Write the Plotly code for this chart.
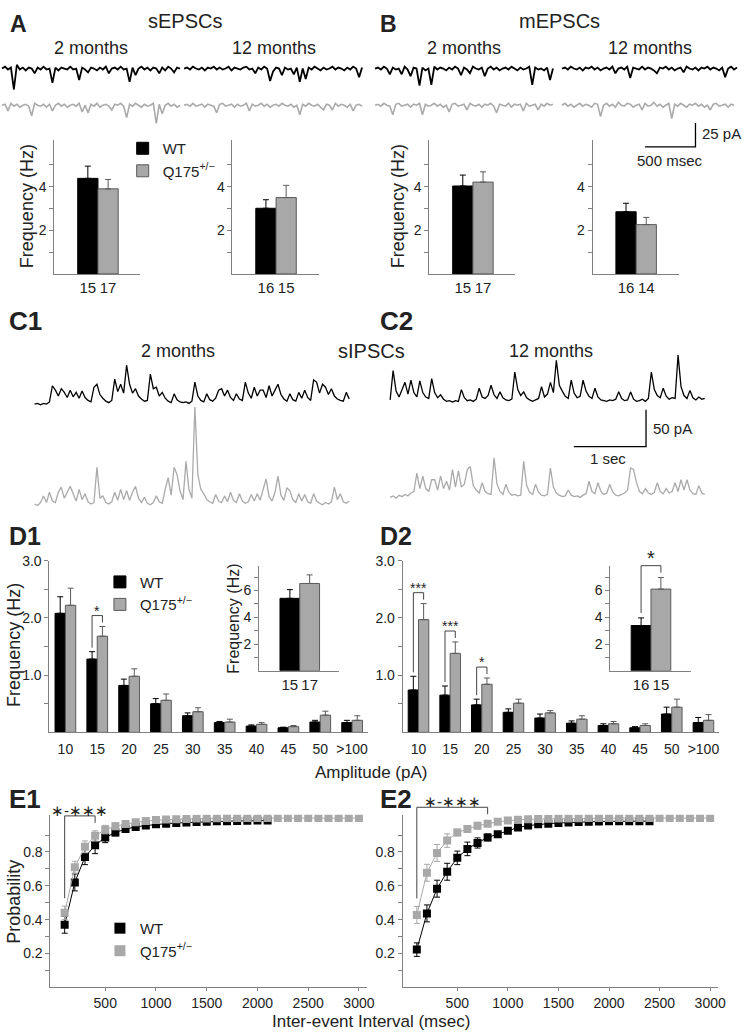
import plotly.graph_objects as go

W, H = 750, 1033
FONT = 'Liberation Sans, Arial, sans-serif'
BLACK = '#000000'
GRAY = '#a8a8a8'
EDGE_GRAY = '#5a5a5a'
TRACE_GRAY = '#aaaaaa'
AXIS = '#808080'
TXT = '#222222'
Q_NAME = 'Q175<sup>+/\u2212</sup>'

# ---------------- data ----------------
# A / B : event frequency (Hz), mean and SEM for [WT, Q175], n = cells
sepsc_2m = [4.38, 3.90]
sepsc_2m_sem = [0.56, 0.43]
sepsc_2m_n = ['15', '17']
sepsc_12m = [3.01, 3.50]
sepsc_12m_sem = [0.39, 0.56]
sepsc_12m_n = ['16', '15']
mepsc_2m = [4.03, 4.21]
mepsc_2m_sem = [0.50, 0.47]
mepsc_2m_n = ['15', '17']
mepsc_12m = [2.85, 2.26]
mepsc_12m_sem = [0.39, 0.33]
mepsc_12m_n = ['16', '14']

# D : sIPSC frequency per amplitude bin (Hz)
amp_bins = ['10', '15', '20', '25', '30', '35', '40', '45', '50', '>100']
d1_wt = [2.08, 1.28, 0.82, 0.50, 0.29, 0.17, 0.11, 0.08, 0.18, 0.17]
d1_wt_sem = [0.29, 0.13, 0.11, 0.09, 0.05, 0.02, 0.02, 0.01, 0.03, 0.04]
d1_q = [2.22, 1.68, 0.98, 0.56, 0.36, 0.18, 0.14, 0.10, 0.30, 0.21]
d1_q_sem = [0.30, 0.17, 0.13, 0.11, 0.07, 0.05, 0.03, 0.02, 0.07, 0.08]
d2_wt = [0.74, 0.65, 0.48, 0.35, 0.25, 0.16, 0.12, 0.08, 0.32, 0.17]
d2_wt_sem = [0.24, 0.16, 0.10, 0.06, 0.07, 0.04, 0.03, 0.02, 0.12, 0.09]
d2_q = [1.97, 1.38, 0.84, 0.51, 0.34, 0.23, 0.15, 0.12, 0.44, 0.21]
d2_q_sem = [0.28, 0.20, 0.11, 0.07, 0.04, 0.06, 0.04, 0.03, 0.14, 0.10]
d1_sig = [(1, '*')]
d2_sig = [(0, '***'), (1, '***'), (2, '*')]
# insets: total sIPSC frequency
sipsc_2m = [5.41, 6.52]
sipsc_2m_sem = [0.65, 0.64]
sipsc_2m_n = ['15', '17']
sipsc_12m = [3.38, 6.10]
sipsc_12m_sem = [0.57, 0.86]
sipsc_12m_n = ['16', '15']

# E : cumulative probability of inter-event interval (msec)
iei = [100, 200, 300, 400, 500, 600, 700, 800, 900, 1000, 1100, 1200, 1300, 1400, 1500,
       1600, 1700, 1800, 1900, 2000, 2100, 2200, 2300, 2400, 2500, 2600, 2700, 2800, 2900, 3000]
e1_wt = [0.37, 0.62, 0.77, 0.84, 0.885, 0.915, 0.935, 0.948, 0.956, 0.963, 0.967, 0.971,
         0.974, 0.977, 0.979, 0.981, 0.982, 0.983, 0.984, 0.985, 0.985]
e1_wt_sem = [0.05, 0.05, 0.045, 0.05, 0.03, 0.02, 0.015, 0.015, 0.01, 0.01, 0.01, 0.01,
             0.008, 0.008, 0.006, 0.006, 0.005, 0.005, 0.005, 0.004, 0.004]
e1_q = [0.44, 0.71, 0.83, 0.895, 0.932, 0.952, 0.965, 0.975, 0.983, 0.988, 0.991, 0.993,
        0.995, 0.997, 0.998, 0.999, 1.0, 1.0, 1.0, 1.0, 1.0, 1.0, 1.0, 1.0, 1.0, 1.0, 1.0,
        1.0, 1.0, 1.0]
e1_q_sem = [0.04, 0.035, 0.035, 0.03, 0.025, 0.02, 0.015, 0.01, 0.01, 0.008, 0.006, 0.005,
            0.004, 0.003, 0.003, 0.002, 0.002, 0, 0, 0, 0, 0, 0, 0, 0, 0, 0, 0, 0, 0]
e2_wt = [0.223, 0.437, 0.583, 0.683, 0.765, 0.818, 0.853, 0.886, 0.905, 0.925, 0.944, 0.956,
         0.963, 0.967, 0.971, 0.974, 0.977, 0.979, 0.98, 0.981, 0.981, 0.982, 0.982, 0.982]
e2_wt_sem = [0.04, 0.05, 0.05, 0.05, 0.04, 0.04, 0.03, 0.02, 0.015, 0.015, 0.01, 0.01,
             0.01, 0.008, 0.008, 0.006, 0.006, 0.005, 0.005, 0.004, 0.004, 0.004, 0.004, 0.004]
e2_q = [0.428, 0.677, 0.794, 0.867, 0.915, 0.935, 0.955, 0.966, 0.978, 0.985, 0.99, 0.993,
        0.995, 0.996, 0.997, 0.998, 0.999, 1.0, 1.0, 1.0, 1.0, 1.0, 1.0, 1.0, 1.0, 1.0, 1.0,
        1.0, 1.0, 1.0]
e2_q_sem = [0.05, 0.05, 0.05, 0.04, 0.02, 0.02, 0.02, 0.01, 0.01, 0.008, 0.006, 0.005,
            0.004, 0.003, 0.003, 0.002, 0.002, 0, 0, 0, 0, 0, 0, 0, 0, 0, 0, 0, 0, 0]
e1_sig = (100, 400, '\u2217-\u2217\u2217\u2217')
e2_sig = (100, 800, '\u2217-\u2217\u2217\u2217')

# example recordings (pA from baseline); A/B sampled every 29.4 ms, C every 41.1 ms
ab_dt = 29.4
c_dt = 41.1
tr_sepsc_2m_wt = [0, 2, -1, 1, -22, 4, -1, 1, -2, 1, 0, -5, 1, -1, 2, -1, 0, -15, 1, -2, 1, 0, -1, 2, -1,
                  0, -12, 1, -1, -4, 1, 0, -2, 1, -1, 2, -5, 0, 1, -1, 2, -1, 0, -14, 1, -7, 0, 2, -1,
                  1, -2, 1, 0, -5, 1, -2, 2, 0, -4, 1, 0]
tr_sepsc_12m_wt = [0, 1, -1, 2, 0, -1, 1, -2, 1, 0, 2, -1, 1, -1, 0, 2, -2, 1, 0, -1, 1, 2, -1, 0, -5,
                   1, -1, 2, 0, -13, -3, 1, 0, -7, 1, -1, 0, -6, 1, -14, 0, -11, 1, -1, 2, 0, -2, 1,
                   -1, 0, 2, -1, 1, 0, -2, 1, -1, 2, 0, -9, 1]
tr_sepsc_2m_q = [0, 1, -6, 2, -1, 1, -2, 0, 1, -1, -11, 2, 0, -1, 1, -2, 1, -6, 0, 2, -1, 1, -2, 0, 1,
                 -1, 2, -7, 0, -8, 1, -1, 2, -2, 0, 1, -1, -5, 1, 0, 2, -1, -13, 1, -1, 2, 0, -2, 1,
                 -1, 0, 2, -19, 1, -9, 0, 2, -1, 1, -2, 0]
tr_sepsc_12m_q = [0, 1, -1, 2, -1, 0, 1, -2, 1, 0, -1, -8, 1, 2, -1, 0, 1, -2, 1, -1, 0, 2, -6, 1, -1,
                  0, 2, -1, 1, -2, 0, 1, -1, 2, 0, -1, 1, -2, 0, -10, 1, -1, 2, 0, -1, 1, -2, -5, 1,
                  0, -5, 2, -1, 1, 0, -2, 1, -6, 0, 1, -1]
tr_mepsc_2m_wt = [0, 1, -1, 2, 0, -6, 1, -1, 0, -6, 2, -1, -8, 1, 0, -18, 1, -2, 0, -17, 2, -1, 1, 0,
                  -2, 1, -1, 2, 0, -7, 1, -1, -5, 2, 0, -1, 1, -8, 0, 2, -1, 1, -2, 0, 1, -1, 2, 0,
                  -2, 1, -1, 0, 2, -17, 1, -1, 0, -2, 1, -12, 0]
tr_mepsc_12m_wt = [0, 1, -1, 2, 0, -1, 1, -2, 1, 0, 2, -1, 1, -2, 0, 1, -1, 2, -5, 0, 1, -1, 2, -10,
                   1, 0, -1, 2, -1, 1, 0, -2, -5, 1, 0, 2, -1, 1, -2, 0, 1, -4, 2, 0, -1, 1, -2, 1,
                   0, 2, -1, 1, 0, -2, 1, -9, 0, 2, -1, 1]
tr_mepsc_2m_q = [0, 1, -1, 2, 0, -1, -10, 1, 2, -1, 0, 1, -2, 1, 0, 2, -10, 1, -1, 0, 2, -1, 1, -2, 0,
                 -7, 1, 2, -1, 0, 1, -5, 2, 0, -1, 1, -2, 1, 0, 2, -1, -8, 1, 0, -1, 2, -2, 1, 0, 1,
                 -6, 2, -1, 0, 1, -5, 1, -1, 2, 0, 1]
tr_mepsc_12m_q = [0, 2, -1, 1, -2, 0, 2, -1, 1, 0, -2, 2, 1, -12, 0, 2, -1, 1, -2, 3, 0, -1, 2, 1, -2,
                  0, 1, -5, 2, -1, 0, 3, -1, 1, -2, 0, 2, -14, 1, -1, 2, 0, -2, 1, 0, 2, -1, 1, -2,
                  0, -5, 1, 2, -1, 0, 1, -2, 1, 0]
tr_sipsc_2m_wt = [-3, -2, -4, -2, -3, 0, 22, 16, 8, 18, 13, 6, 16, 7, 13, 5, 15, 6, 2, 0, 20, 24, 10,
                  5, 1, -1, 2, 31, 14, 24, 12, 50, 24, 12, 18, 8, 4, 1, 2, 38, 18, 20, 8, 13, 5, 1,
                  -1, 11, 3, 0, -1, 0, -2, 1, 27, 8, 2, 0, 11, 3, 1, 5, 16, 18, 8, 16, 6, 2, 11, 4,
                  2, 27, 12, 5, 20, 8, 16, 16, 6, 22, 8, 16, 24, 10, 4, 1, 11, 3, 1, 13, 5, 16, 6,
                  2, 30, 27, 12, 24, 20, 10, 18, 8, 4, 2, 1, 13, 4]
tr_sipsc_2m_q = [0, -2, 2, 11, 2, 16, 4, 2, 16, 23, 8, 16, 24, 14, 4, 20, 6, 14, 3, 0, 2, 50, 8, 11,
                 2, 0, 3, 16, 5, 20, 6, 18, 5, 16, 24, 8, 2, 9, 1, -1, 2, 11, 3, 1, 20, 36, 12, 50,
                 40, 18, 6, 58, 20, 8, 132, 40, 20, 14, 6, 3, 1, 13, 4, 2, 11, 3, 16, 5, 2, 14, 4,
                 1, 3, 13, 4, 14, 5, 20, 34, 10, 4, 16, 38, 12, 5, 22, 18, 6, 2, 14, 4, 13, 3, 1,
                 14, 4, 1, -1, 2, 0, 3, 23, 6, 14, 3, 1, 4]
tr_sipsc_12m_wt = [0, 40, 12, 4, 14, 24, 8, 27, 10, 4, 26, 10, 4, 2, 29, 10, 3, 7, 1, -2, -1, -3, -1,
                   -2, 14, 3, -1, 0, -2, 1, 16, 4, 2, 6, 20, 7, 2, 11, 3, 0, -1, 1, 38, 14, 6, 11,
                   3, 0, -2, 0, 2, 18, 4, 8, 24, 10, 54, 20, 12, 5, 2, 27, 9, 3, 5, 27, 12, 5, 2,
                   16, 4, 0, -1, -2, 0, -1, 1, 11, 2, -1, 0, 11, 1, -2, -1, 1, -2, 2, 38, 14, 6, 3,
                   16, 5, 1, 3, 2, 61, 18, 6, 2, 13, 3, 0, 4, 1, 2]
tr_sipsc_12m_q = [-2, 0, -3, 1, -1, 2, 0, 4, 6, 31, 10, 27, 10, 6, 22, 22, 8, 27, 10, 20, 8, 36, 12,
                  34, 12, 16, 36, 40, 14, 8, 4, 18, 6, 3, 2, 52, 16, 6, 2, 16, 5, 1, 2, 0, 1, 47,
                  14, 5, 2, 16, 5, 1, 0, 2, 38, 12, 4, 1, -1, 0, 8, 1, -1, 0, -2, 1, 3, 20, 6, 3,
                  18, 6, 2, 4, 16, 5, 1, 0, 2, 4, 8, 38, 36, 18, 6, 3, 10, 4, 2, 5, 18, 6, 3, 10,
                  4, 6, 18, 6, 22, 8, 22, 8, 3, 2, 14, 4, 2]
scale_ab = (500, 25)   # msec, pA
scale_c = (1000, 50)


# ---------------- helpers ----------------
def xdom(l, r):
    return [l / W, r / W]


def ydom(t, b):
    return [1 - b / H, 1 - t / H]


def ref(a, i):
    return a if i == 1 else f'{a}{i}'


def key(a, i):
    return f'{a}axis' if i == 1 else f'{a}axis{i}'


fig = go.Figure()
layout = {}
ann = []
shapes = []


def note(s, x, y, size, bold=False, angle=0, xanchor='center', yanchor='middle', color=TXT):
    ann.append(dict(text=f'<b>{s}</b>' if bold else s, x=x / W, y=1 - y / H, xref='paper', yref='paper',
                    showarrow=False, textangle=angle, xanchor=xanchor, yanchor=yanchor,
                    font=dict(family=FONT, size=size, color=color)))


def bar_axes(i, l, r, t, b, xr, yr, xt, yt, ylab, minor, xsize=15):
    layout[key('x', i)] = dict(domain=xdom(l, r), anchor=ref('y', i), range=xr, showline=True,
                               linecolor=AXIS, linewidth=1, ticks='', showgrid=False, zeroline=False,
                               tickvals=list(range(len(xt))), ticktext=xt,
                               tickfont=dict(size=xsize, color=TXT, family=FONT))
    layout[key('y', i)] = dict(domain=ydom(t, b), anchor=ref('x', i), range=yr, showline=True,
                               linecolor=AXIS, linewidth=1, ticks='outside', ticklen=4, tickcolor=AXIS,
                               showgrid=False, zeroline=False, tickvals=yt, ticktext=ylab,
                               minor=dict(tickvals=minor, ticks='outside', ticklen=4, tickcolor=AXIS,
                                          showgrid=False),
                               tickfont=dict(size=14, color=TXT, family=FONT))


def pair_bars(i, xs, wt, wt_sem, q, q_sem, offs, width, legend=None):
    for vals, sem, name, col, edge, o in ((wt, wt_sem, 'WT', BLACK, BLACK, offs[0]),
                                          (q, q_sem, Q_NAME, GRAY, EDGE_GRAY, offs[1])):
        fig.add_trace(go.Bar(x=xs, y=vals, offset=o, width=width, name=name,
                             marker=dict(color=col, line=dict(color=edge, width=1)),
                             error_y=dict(type='data', array=sem, arrayminus=[0] * len(sem),
                                          symmetric=False, color=edge, thickness=1, width=3),
                             xaxis=ref('x', i), yaxis=ref('y', i), hoverinfo='skip',
                             showlegend=legend is not None, legend=legend or 'legend'))


def bracket(i, x0, x1, top0, top1, t, b, yr, pad, label, size):
    def to_py(v):
        return b - (v - yr[0]) / (yr[1] - yr[0]) * (b - t)
    p0 = to_py(top0) - pad
    p1 = to_py(top1) - pad
    pt = min(p0, p1) - 7
    shapes.append(dict(type='path', xref=ref('x', i), yref='paper',
                       path=f'M{x0},{1 - p0 / H} L{x0},{1 - pt / H} L{x1},{1 - pt / H} L{x1},{1 - p1 / H}',
                       line=dict(color='#444444', width=1)))
    ann.append(dict(text=label, x=(x0 + x1) / 2, y=1 - pt / H, xref=ref('x', i), yref='paper',
                    yanchor='bottom', yshift=-5, showarrow=False,
                    font=dict(family=FONT, size=size, color=TXT)))


def recording(i, vals, t0, dt, base, color, width):
    fig.add_trace(go.Scatter(x=[t0 + k * dt for k in range(len(vals))], y=[base + v for v in vals],
                             mode='lines', line=dict(color=color, width=width, simplify=False),
                             hoverinfo='skip', showlegend=False, xaxis=ref('x', i), yaxis=ref('y', i)))


def scale_bar(i, x, y, sizes):
    fig.add_trace(go.Scatter(x=[x - sizes[0], x, x], y=[y, y, y + sizes[1]], mode='lines',
                             line=dict(color=BLACK, width=1.3), hoverinfo='skip', showlegend=False,
                             xaxis=ref('x', i), yaxis=ref('y', i)))


# ---------------- recordings (A/B row and C row) ----------------
layout['xaxis'] = dict(domain=[0, 1], range=[0, 7353], visible=False)
layout['yaxis'] = dict(domain=ydom(45, 150), range=[-92.7, 16.7], visible=False)
for vals, t0, base, col, lw in ((tr_sepsc_2m_wt, 20, 0, BLACK, 1.8), (tr_sepsc_12m_wt, 1824, 0, BLACK, 1.8),
                                (tr_mepsc_2m_wt, 3716, 0, BLACK, 1.8), (tr_mepsc_12m_wt, 5569, 0, BLACK, 1.8),
                                (tr_sepsc_2m_q, 20, -38.5, TRACE_GRAY, 1.6),
                                (tr_sepsc_12m_q, 1824, -38.5, TRACE_GRAY, 1.6),
                                (tr_mepsc_2m_q, 3716, -38.5, TRACE_GRAY, 1.6),
                                (tr_mepsc_12m_q, 5569, -38.5, TRACE_GRAY, 1.6)):
    recording(1, vals, t0, ab_dt, base, col, lw)
scale_bar(1, 6892, -82.3, scale_ab)

layout['xaxis2'] = dict(domain=[0, 1], range=[0, 10274], visible=False, anchor='y2')
layout['yaxis2'] = dict(domain=ydom(340, 510), range=[-152.7, 77.0], visible=False, anchor='x2')
for vals, t0, base, col in ((tr_sipsc_2m_wt, 479, 0, BLACK), (tr_sipsc_2m_q, 479, -139, TRACE_GRAY),
                            (tr_sipsc_12m_wt, 5402, 2.7, BLACK), (tr_sipsc_12m_q, 5402, -128, TRACE_GRAY)):
    recording(2, vals, t0, c_dt, base, col, 1.3)
scale_bar(2, 8945, -60.8, scale_c)

# ---------------- A / B bar charts ----------------
for i, l, vals, sem, n, leg in ((3, 55, sepsc_2m, sepsc_2m_sem, sepsc_2m_n, 'legend'),
                                (4, 235, sepsc_12m, sepsc_12m_sem, sepsc_12m_n, None),
                                (5, 434, mepsc_2m, mepsc_2m_sem, mepsc_2m_n, None),
                                (6, 599, mepsc_12m, mepsc_12m_sem, mepsc_12m_n, None)):
    bar_axes(i, l, l + 87, 133, 268, [-1.65, 2.6], [0, 6.14], n, [2, 4], ['2', '4'], [1, 3, 5])
    pair_bars(i, [0], [vals[0]], [sem[0]], [vals[1]], [sem[1]], (-0.5, 0.5), 1, leg)

# ---------------- D amplitude histograms ----------------
xs = list(range(len(amp_bins)))
for i, l, r, wt, wts, q, qs, sig, leg in ((7, 50, 372, d1_wt, d1_wt_sem, d1_q, d1_q_sem, d1_sig, 'legend2'),
                                          (9, 407, 727, d2_wt, d2_wt_sem, d2_q, d2_q_sem, d2_sig, None)):
    bar_axes(i, l, r, 557, 730, [-0.5, 9.5], [0, 3.0], amp_bins, [1.0, 2.0, 3.0], ['1.0', '2.0', '3.0'],
             [0.5, 1.5, 2.5], xsize=14)
    layout[key('x', i)]['ticklabelstandoff'] = 4
    pair_bars(i, xs, wt, wts, q, qs, (-0.325, 0), 0.325, leg)
    for k, lab in sig:
        bracket(i, k - 0.1625, k + 0.1625, wt[k] + wts[k], q[k] + qs[k], 557, 730, [0, 3.0], 4, lab, 14)

for i, l, vals, sem, n in ((8, 262, sipsc_2m, sipsc_2m_sem, sipsc_2m_n),
                           (10, 617, sipsc_12m, sipsc_12m_sem, sipsc_12m_n)):
    bar_axes(i, l, l + 81, 562, 668, [-1.55, 2.5], [0, 7.85], n, [2, 4, 6], ['2', '4', '6'], [1, 3, 5, 7])
    pair_bars(i, [0], [vals[0]], [sem[0]], [vals[1]], [sem[1]], (-0.5, 0.5), 1)
bracket(10, 0, 1, sipsc_12m[0] + sipsc_12m_sem[0], sipsc_12m[1] + sipsc_12m_sem[1],
        562, 668, [0, 7.85], 5, '*', 20)

# ---------------- E cumulative distributions ----------------
for i, l, r, wt, wts, q, qs, sig in ((11, 51, 371, e1_wt, e1_wt_sem, e1_q, e1_q_sem, e1_sig),
                                     (12, 407, 726, e2_wt, e2_wt_sem, e2_q, e2_q_sem, e2_sig)):
    layout[key('x', i)] = dict(domain=xdom(l, r), anchor=ref('y', i), range=[-40, 3080], showline=True,
                               linecolor=AXIS, linewidth=1, ticks='outside', ticklen=3, tickcolor=AXIS,
                               showgrid=False, zeroline=False, tickvals=[500, 1000, 1500, 2000, 2500, 3000],
                               tickfont=dict(size=14, color=TXT, family=FONT))
    layout[key('y', i)] = dict(domain=ydom(813, 987), anchor=ref('x', i), range=[0, 1.02], showline=True,
                               linecolor=AXIS, linewidth=1, ticks='outside', ticklen=4, tickcolor=AXIS,
                               showgrid=False, zeroline=False, tickvals=[0.2, 0.4, 0.6, 0.8],
                               ticktext=['0.2', '0.4', '0.6', '0.8'],
                               minor=dict(tickvals=[0.1, 0.3, 0.5, 0.7, 0.9], ticks='outside', ticklen=4,
                                          tickcolor=AXIS, showgrid=False),
                               tickfont=dict(size=14, color=TXT, family=FONT))
    for vals, sem, col in ((wt, wts, BLACK), (q, qs, GRAY)):
        fig.add_trace(go.Scatter(x=iei[:len(vals)], y=vals, mode='lines+markers',
                                 line=dict(color=col, width=1),
                                 marker=dict(symbol='square', size=8, color=col),
                                 error_y=dict(type='data', array=sem, color=col, thickness=1, width=3),
                                 hoverinfo='skip', showlegend=False, xaxis=ref('x', i), yaxis=ref('y', i)))
    k0, k1 = iei.index(sig[0]), iei.index(sig[1])
    bracket(i, sig[0], sig[1], max(wt[k0] + wts[k0], q[k0] + qs[k0]), max(wt[k1] + wts[k1], q[k1] + qs[k1]),
            813, 987, [0, 1.02], 8, sig[2], 15)

for name, col in (('WT', BLACK), (Q_NAME, GRAY)):
    fig.add_trace(go.Scatter(x=[None], y=[None], mode='markers', name=name,
                             marker=dict(symbol='square', size=11, color=col),
                             legend='legend3', xaxis='x11', yaxis='y11'))

# ---------------- text ----------------
note('A', 8, 16, 23, bold=True, xanchor='left')
note('B', 382, 16, 23, bold=True, xanchor='left')
note('sEPSCs', 187, 13, 20)
note('mEPSCs', 566, 13, 20)
note('2 months', 92, 40, 18)
note('12 months', 277, 40, 18)
note('2 months', 469, 40, 18)
note('12 months', 657, 40, 18)
note('25 pA', 708, 126, 15, xanchor='left')
note('500 msec', 677, 154, 15)
note('Frequency (Hz)', 28, 200, 18, angle=-90)
note('Frequency (Hz)', 403, 200, 18, angle=-90)

note('C1', 7, 315, 26, bold=True, xanchor='left')
note('C2', 382, 315, 26, bold=True, xanchor='left')
note('2 months', 180, 346, 18)
note('sIPSCs', 376, 346, 20)
note('12 months', 557, 346, 18)
note('50 pA', 658, 424, 15, xanchor='left')
note('1 sec', 615, 454, 15)

note('D1', 7, 532, 25, bold=True, xanchor='left')
note('D2', 382, 532, 25, bold=True, xanchor='left')
note('Frequency (Hz)', 14, 642, 18, angle=-90)
note('Frequency (Hz)', 236, 615, 16, angle=-90)
note('Amplitude (pA)', 375, 770, 17)

note('E1', 7, 797, 26, bold=True, xanchor='left')
note('E2', 382, 797, 26, bold=True, xanchor='left')
note('Probability', 14, 901, 18, angle=-90)
note('Inter-event Interval (msec)', 375, 1021, 17)

leg_style = dict(xanchor='left', yanchor='top', bgcolor='rgba(0,0,0,0)', borderwidth=0,
                 tracegroupgap=0, font=dict(family=FONT, size=15, color=TXT))
fig.update_layout(
    width=W, height=H, margin=dict(l=0, r=0, t=0, b=0),
    paper_bgcolor='white', plot_bgcolor='rgba(0,0,0,0)',
    font=dict(family=FONT, color=TXT), barmode='overlay', hovermode=False,
    legend=dict(x=124 / W, y=1 - 125 / H, **leg_style),
    legend2=dict(x=101 / W, y=1 - 562 / H, **leg_style),
    legend3=dict(x=101 / W, y=1 - 911 / H, **leg_style),
    annotations=ann, shapes=shapes, **layout)

# the page body has a default margin; drop it so the figure sits at the window's corner
fig.write_html("out.html", config={'displayModeBar': False},
               post_script="document.body.style.margin='0px';")
